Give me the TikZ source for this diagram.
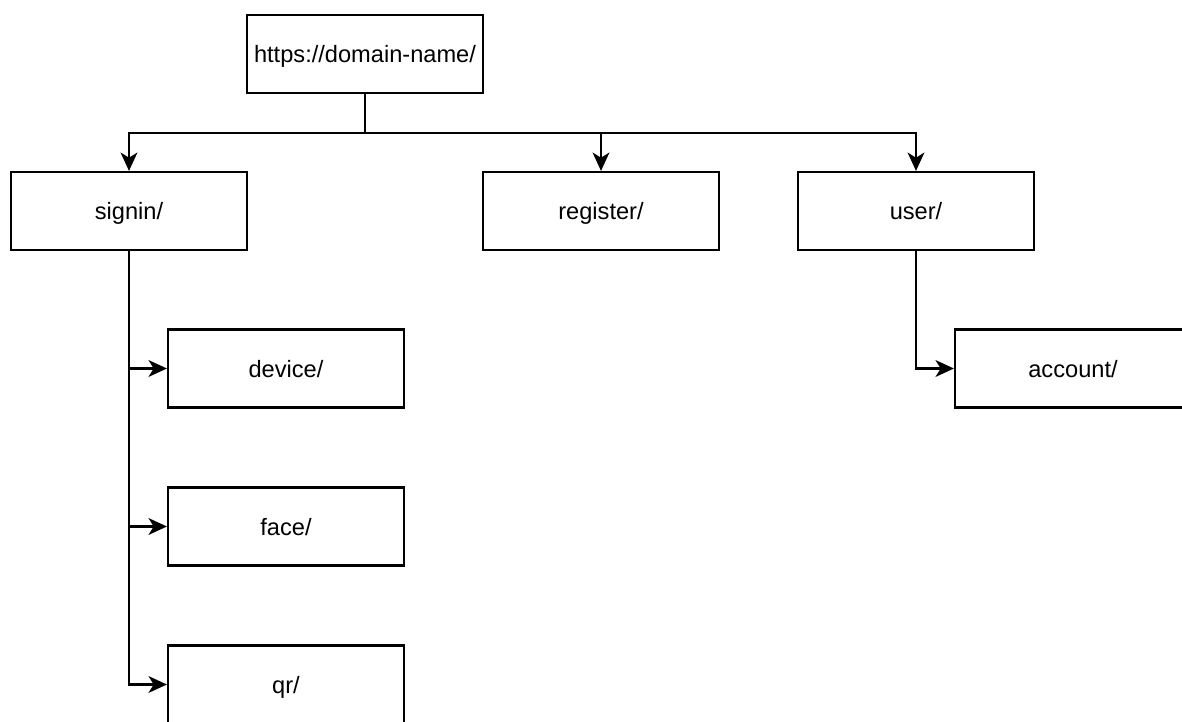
\documentclass[tikz,border=0pt]{standalone}
\usepackage{fontspec}
\setmainfont{Liberation Sans}
\usetikzlibrary{arrows.meta,positioning}

\begin{document}
\begin{tikzpicture}[x=0.025cm,y=-0.025cm,
  page/.style={draw=black,line width=1.5pt,minimum width=5.9cm,minimum height=1.95cm,font=\fontsize{16.8}{19}\selectfont,text height=16pt,text depth=3.3pt,inner sep=0pt},
  link/.style={line width=1.5pt,-{Stealth[length=0.46cm,width=0.42cm,inset=0.13cm]}}]
\useasboundingbox (0,0) rectangle (1182,722);
\node[page] (root) at (365,54) {https://domain-name/};
\node[page] (signin) at (129,211) {signin/};
\node[page] (register) at (601,211) {register/};
\node[page] (user) at (916,211) {user/};
\node[page] (device) at (286,368.5) {device/};
\node[page] (face) at (286,526.5) {face/};
\node[page] (qr) at (286,684.5) {qr/};
\node[page] (account) at (1073,368.5) {account/};
\coordinate (split) at (365,133);
% top level
\draw[link] (root.south) -- (split) -| (signin.north);
\draw[link] (root.south) -- (split) -| (register.north);
\draw[link] (root.south) -- (split) -| (user.north);
% signin pages
\draw[link] (signin.south) |- (device.west);
\draw[link] (signin.south) |- (face.west);
\draw[link] (signin.south) |- (qr.west);
% user pages
\draw[link] (user.south) |- (account.west);
\end{tikzpicture}
\end{document}
